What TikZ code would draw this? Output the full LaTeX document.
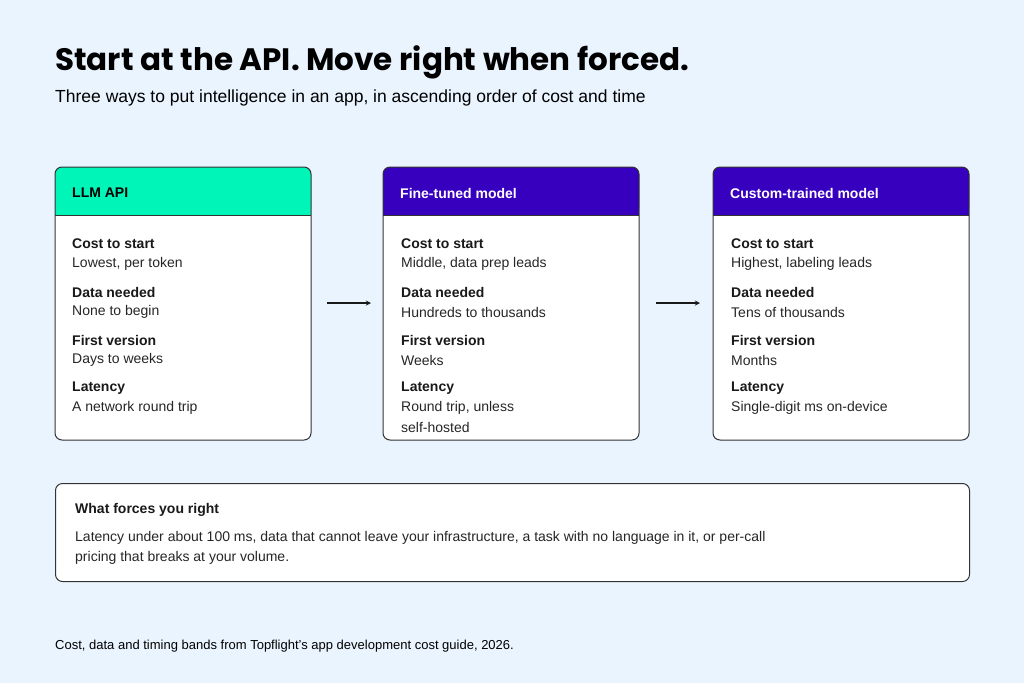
\documentclass[tikz,border=0pt]{standalone}
\usepackage{fontspec}
\setmainfont{Liberation Sans}
\newfontfamily\titlefont{Poppins}
\begin{document}
\begin{tikzpicture}[x=1pt,y=-1pt,
  card/.style={draw=black!80,line width=1pt,rounded corners=7pt},
  lab/.style={anchor=west,font=\fontsize{14}{16}\selectfont\bfseries,text=black!90,inner sep=0},
  val/.style={anchor=west,font=\fontsize{14}{16}\selectfont,text=black!85,inner sep=0},
  arr/.style={-stealth,line width=1.3pt,black!90}]
\definecolor{bg}{HTML}{EAF4FE}
\definecolor{teal}{HTML}{00F5B8}
\definecolor{purp}{HTML}{3700BE}
\fill[bg] (0,0) rectangle (1024,683);
\useasboundingbox (0,0) rectangle (1024,683);
\node[anchor=west,inner sep=0,font=\titlefont\fontsize{31}{34}\selectfont\bfseries] (title) at (55,62) {Start at the API. Move right when forced.};
\node[anchor=west,inner sep=0,font=\fontsize{17.5}{20}\selectfont] (sub) at (55,98) {Three ways to put intelligence in an app, in ascending order of cost and time};
\foreach \x/\c/\tc/\name/\n in {55/teal/black/LLM API/a, 383/purp/white/Fine-tuned model/b, 713/purp/white/Custom-trained model/c}{
  \fill[white,rounded corners=7pt] (\x,167) rectangle (\x+256,440);
  \fill[\c,rounded corners=7pt] (\x,167) rectangle (\x+256,215);
  \fill[\c] (\x,200) rectangle (\x+256,215);
  \draw[black!80,line width=0.8pt] (\x,215) -- (\x+256,215);
  \draw[card] (\x,167) rectangle (\x+256,440);
  \node[card,draw=none,minimum width=256,minimum height=273,anchor=north west] (box\n) at (\x,167) {};
  \node[lab,text=\tc] at (\x+17,193) {\name};
}
\foreach \x/\a/\b/\c/\d in {72/{Lowest, per token}/{None to begin}/{Days to weeks}/{A network round trip},
  401/{Middle, data prep leads}/{Hundreds to thousands}/{Weeks}/{Round trip, unless},
  731/{Highest, labeling leads}/{Tens of thousands}/{Months}/{Single-digit ms on-device}}{
  \node[lab] at (\x,244) {Cost to start};
  \node[val] at (\x,264) {\a};
  \node[lab] at (\x,292) {Data needed};
  \node[val] at (\x,312) {\b};
  \node[lab] at (\x,340) {First version};
  \node[val] at (\x,360) {\c};
  \node[lab] at (\x,388) {Latency};
  \node[val] at (\x,408) {\d};
}
\node[val] at (401,427) {self-hosted};
\coordinate (a1) at (327,303); \coordinate (a2) at (371,303);
\coordinate (b1) at (656,303); \coordinate (b2) at (700,303);
\draw[arr] (a1) -- (a2);
\draw[arr] (b1) -- (b2);
\node[card,fill=white,minimum width=914,minimum height=98,anchor=north west] (force) at (55,483) {};
\node[lab] at (75,510) {What forces you right};
\node[val] at (75,538) {Latency under about 100 ms, data that cannot leave your infrastructure, a task with no language in it, or per-call};
\node[val] at (75,558) {pricing that breaks at your volume.};
\node[anchor=west,inner sep=0,font=\fontsize{13}{15}\selectfont] (foot) at (55,646) {Cost, data and timing bands from Topflight’s app development cost guide, 2026.};
\end{tikzpicture}
\end{document}
